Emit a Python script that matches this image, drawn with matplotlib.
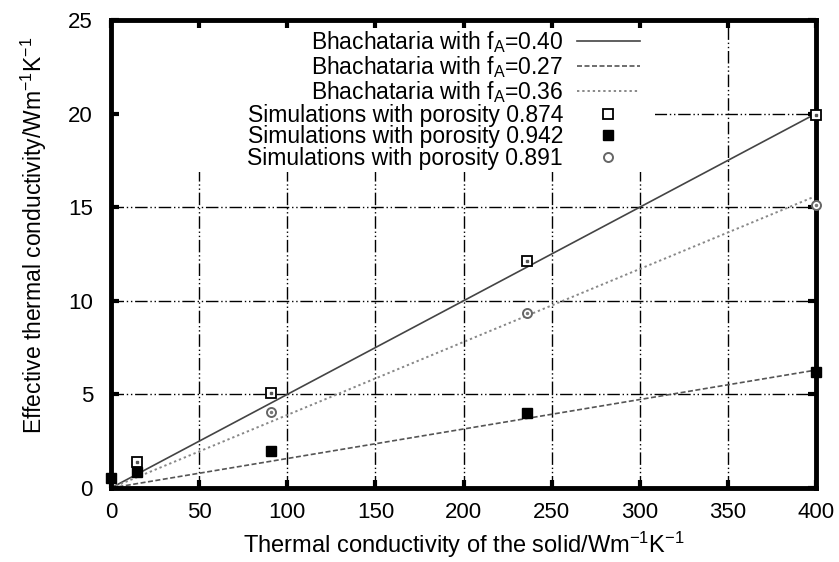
import numpy as np
import matplotlib.pyplot as plt
from matplotlib.patches import Rectangle

plt.rcParams['font.family'] = ['Liberation Sans', 'DejaVu Sans']
plt.rcParams['mathtext.default'] = 'regular'

# Bhattacharya model lines (k_solid -> k_eff)
k_line = [0, 400]
bh_040 = [0.0, 20.0]
bh_027 = [0.0, 6.3]
bh_036 = [0.0, 15.6]

# simulation points
k_874 = [15, 91, 236, 400]
sim_874 = [1.4, 5.1, 12.1, 19.9]
k_942 = [0, 15, 91, 236, 400]
sim_942 = [0.55, 0.85, 2.0, 4.0, 6.2]
k_891 = [91, 236, 400]
sim_891 = [4.05, 9.35, 15.1]

fig = plt.figure(figsize=(8.39, 5.62), dpi=100)
ax = fig.add_axes([0.1323, 0.1317, 0.8403, 0.8327])

# gnuplot-ish grid, dash-dot-dot
for xv in range(50, 400, 50):
    ax.plot([xv, xv], [0, 25], color='black', lw=1.0, dashes=(9, 2, 1, 2, 1, 2), zorder=1)
for yv in range(5, 25, 5):
    ax.plot([0, 400], [yv, yv], color='black', lw=1.0, dashes=(9, 2, 1, 2, 1, 2), zorder=1)

# key area is opaque, like gnuplot's key box
ax.add_patch(Rectangle((0, 0.675), 0.772, 0.325, transform=ax.transAxes,
                       fc='white', ec='none', zorder=1.5))

ax.plot(k_line, bh_040, color='#444444', lw=1.2, label='Bhachataria with f$_A$=0.40', zorder=2)
ax.plot(k_line, bh_027, color='#555555', lw=1.2, dashes=(3, 1.5), label='Bhachataria with f$_A$=0.27', zorder=2)
ax.plot(k_line, bh_036, color='#888888', lw=1.4, dashes=(1.2, 1.5), label='Bhachataria with f$_A$=0.36', zorder=2)

ax.plot(k_874, sim_874, ls='none', marker='s', ms=6.5, mfc='white', mec='black', mew=1.3,
        label='Simulations with porosity 0.874', clip_on=False, zorder=4)
ax.plot(k_942, sim_942, ls='none', marker='s', ms=7, mfc='black', mec='black',
        label='Simulations with porosity 0.942', clip_on=False, zorder=4)
ax.plot(k_891, sim_891, ls='none', marker='o', ms=6.5, mfc='white', mec='#666666', mew=1.4,
        label='Simulations with porosity 0.891', clip_on=False, zorder=4)
# small inner dots of the open markers
ax.plot(k_874, sim_874, ls='none', marker='s', ms=1.5, color='#555555', clip_on=False, zorder=4.5)
ax.plot(k_891, sim_891, ls='none', marker='o', ms=1.5, color='#777777', clip_on=False, zorder=4.5)

ax.set_xlim(0, 400)
ax.set_ylim(0, 25)
ax.set_xticks(np.arange(0, 401, 50))
ax.set_yticks(np.arange(0, 26, 5))

for s in ax.spines.values():
    s.set_linewidth(3.5)
ax.tick_params(direction='in', length=6, width=3, labelsize=16, top=True, right=True)
ax.tick_params(axis='x', pad=10)
ax.tick_params(axis='y', pad=13)

ax.set_xlabel('Thermal conductivity of the solid/Wm$^{-1}$K$^{-1}$', fontsize=17, labelpad=5)
ax.set_ylabel('Effective thermal conductivity/Wm$^{-1}$K$^{-1}$', fontsize=16.5)
ax.yaxis.set_label_coords(-0.088, 0.54)

leg = ax.legend(loc='upper right', bbox_to_anchor=(0.750, 0.980), frameon=False,
                markerfirst=False, fontsize=16.5, labelspacing=-0.05, handlelength=2.75,
                handletextpad=0.6, borderaxespad=0.0, borderpad=0.0)
leg.set_zorder(5)

fig.savefig('out.png', dpi=100)
